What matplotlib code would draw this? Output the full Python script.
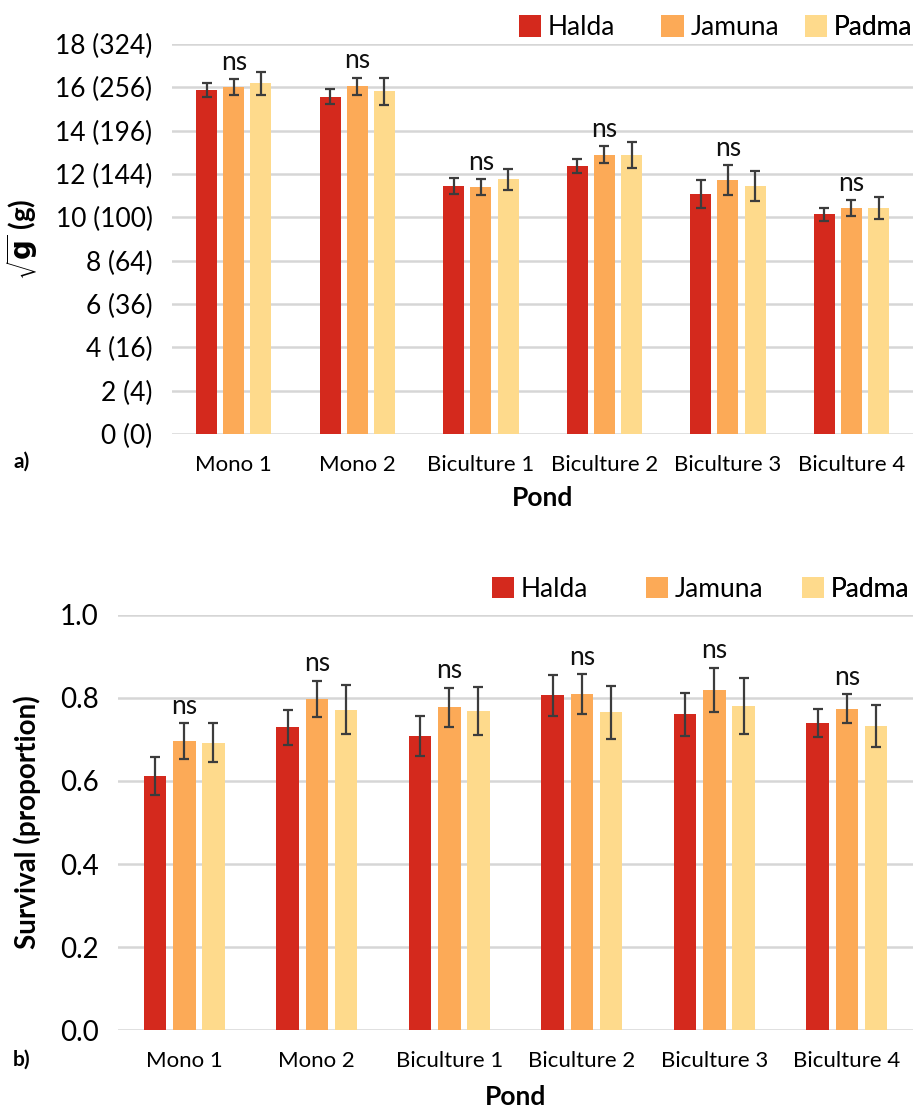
import numpy as np
import matplotlib
matplotlib.use("Agg")
import matplotlib.pyplot as plt

plt.rcParams['font.family'] = ['Lato', 'DejaVu Sans']

ponds = ["Mono 1", "Mono 2", "Biculture 1", "Biculture 2", "Biculture 3", "Biculture 4"]
strains = ["Halda", "Jamuna", "Padma"]
colors = ["#D4291D", "#FCAA57", "#FEDA8C"]

# a) weight, sqrt scale
sqrt_halda = [15.89, 15.57, 11.45, 12.38, 11.08, 10.14]
sqrt_jamuna = [16.02, 16.06, 11.39, 12.89, 11.71, 10.43]
sqrt_padma = [16.19, 15.82, 11.76, 12.89, 11.45, 10.43]
sqrt_halda_err = [0.33, 0.36, 0.35, 0.33, 0.64, 0.31]
sqrt_jamuna_err = [0.37, 0.39, 0.38, 0.39, 0.70, 0.35]
sqrt_padma_err = [0.52, 0.62, 0.48, 0.60, 0.68, 0.51]
sqrt_ticks = [0, 2, 4, 6, 8, 10, 12, 14, 16, 18]

# b) survival
surv_halda = [0.612, 0.729, 0.709, 0.806, 0.761, 0.740]
surv_jamuna = [0.696, 0.798, 0.778, 0.809, 0.819, 0.774]
surv_padma = [0.692, 0.772, 0.768, 0.765, 0.781, 0.733]
surv_halda_err = [0.045, 0.043, 0.048, 0.050, 0.052, 0.034]
surv_jamuna_err = [0.043, 0.044, 0.047, 0.048, 0.054, 0.035]
surv_padma_err = [0.047, 0.060, 0.058, 0.063, 0.068, 0.051]
surv_ticks = [0.0, 0.2, 0.4, 0.6, 0.8, 1.0]


def draw_panel(ax, series, errs, ticks, ticklabels, ylabel, ytick_size,
               legend_size, legend_x, legend_y, xlabel_pad):
    x = np.arange(len(ponds))
    width = 0.17
    step = 0.22
    bars = []
    for i, (vals, err) in enumerate(zip(series, errs)):
        b = ax.bar(x + (i - 1) * step, vals, width, color=colors[i], label=strains[i],
                   yerr=err, error_kw=dict(ecolor="#3C3C3C", elinewidth=1.6, capsize=3.5, capthick=1.6),
                   zorder=3)
        bars.append(b)
    # "ns" above the middle bar
    tops = np.array(series[1]) + np.array(errs[1])
    for xi, t in zip(x, tops):
        ax.annotate("ns", (xi, t), xytext=(0, 3), textcoords="offset points",
                    ha="center", va="bottom", fontsize=19, color="#111111")
    ax.set_xlim(-0.5, len(ponds) - 0.5)
    ax.set_ylim(ticks[0], ticks[-1])
    ax.set_yticks(ticks)
    ax.set_yticklabels(ticklabels, fontsize=ytick_size)
    ax.set_xticks(x)
    ax.set_xticklabels(ponds, fontsize=16)
    ax.tick_params(axis="both", length=0)
    ax.tick_params(axis="y", pad=14)
    ax.tick_params(axis="x", pad=15)
    ax.grid(axis="y", color="#D6D6D6", linewidth=1.8, zorder=0)
    for s in ax.spines.values():
        s.set_visible(False)
    ax.set_xlabel("Pond", fontsize=19, fontweight="bold", labelpad=xlabel_pad)
    ax.set_ylabel(ylabel, fontsize=20, fontweight="bold")
    # Excel-style legend with equal column widths
    for i, b in enumerate(bars):
        leg = ax.legend([b], [strains[i]], loc="lower left",
                        bbox_to_anchor=(legend_x[i], legend_y), frameon=False,
                        fontsize=legend_size, handlelength=0.85, handleheight=0.85,
                        handletextpad=0.25, borderaxespad=0, borderpad=0)
        ax.add_artist(leg)


fig = plt.figure(figsize=(9.15, 11.12), dpi=100)
ax1 = fig.add_axes([0.188, 0.6097, 0.810, 0.3507])
ax2 = fig.add_axes([0.129, 0.0737, 0.869, 0.3733])

draw_panel(ax1, [sqrt_halda, sqrt_jamuna, sqrt_padma],
           [sqrt_halda_err, sqrt_jamuna_err, sqrt_padma_err],
           sqrt_ticks, [f"{t} ({t * t})" for t in sqrt_ticks],
           r"$\sqrt{\mathbf{g}}$ (g)", 19, 19,
           [0.468, 0.660, 0.854], 1.01, 8)
ax1.yaxis.set_label_coords(-0.178, 0.5)

draw_panel(ax2, [surv_halda, surv_jamuna, surv_padma],
           [surv_halda_err, surv_jamuna_err, surv_padma_err],
           surv_ticks, [f"{t:.1f}" for t in surv_ticks],
           "Survival (proportion)", 20, 19,
           [0.470, 0.664, 0.860], 1.032, 10)
ax2.yaxis.set_label_coords(-0.097, 0.5)

fig.text(22 / 915, 1 - 462 / 1112, "a)", fontsize=15, fontweight="bold", ha="center", va="center")
fig.text(22 / 915, 1 - 1060 / 1112, "b)", fontsize=15, fontweight="bold", ha="center", va="center")

fig.savefig("out.png", dpi=100)
